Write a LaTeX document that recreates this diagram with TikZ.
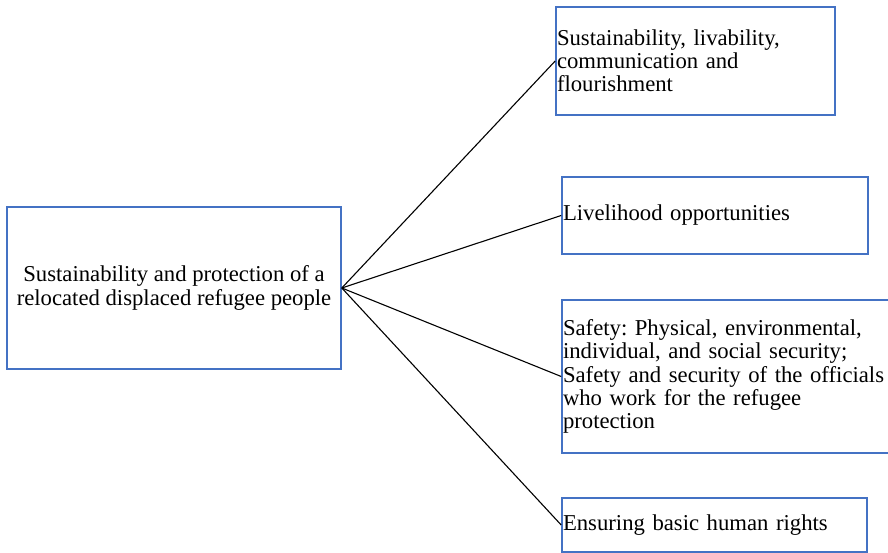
\documentclass[tikz,border=0pt]{standalone}
\usepackage{fontspec}
\setmainfont{Liberation Serif}
\usetikzlibrary{positioning}
\definecolor{boxblue}{RGB}{68,114,196}
\frenchspacing
\tikzset{
    mybox/.style = {rectangle, draw=boxblue, line width=1.6pt, inner xsep=1pt, inner ysep=2pt, align=left,
                    font=\fontsize{22.7}{23.2}\selectfont},
    mymain/.style = {mybox, align=center, minimum width=334pt, minimum height=162pt},
    edgel/.style = {black, line width=1.1pt},
}

\begin{document}
\begin{tikzpicture}[x=1pt,y=-1pt]
\useasboundingbox (0,0) rectangle (888,553);
\node[mymain] at (174.0, 288.0) (main) {Sustainability and protection of a\\relocated displaced refugee people};
\node[mybox, text width=277pt, minimum height=108pt] at (695.5, 61.0) (sust) {Sustainability, livability,\\communication and\\flourishment};
\node[mybox, text width=304pt, minimum height=77pt] at (715.0, 215.5) (live) {Livelihood opportunities};
\node[mybox, text width=342pt, minimum height=153pt] at (734.0, 376.5) (safe) {Safety: Physical, environmental,\\individual, and social security;\\Safety and security of the officials\\who work for the refugee\\protection};
\node[mybox, text width=303pt, minimum height=54pt] at (714.5, 525.0) (rights) {Ensuring basic human rights};
%
\draw[edgel] (main.east) edge (sust.west);
\draw[edgel] (main.east) edge (live.west);
\draw[edgel] (main.east) edge (safe.west);
\draw[edgel] (main.east) edge (rights.west);
\end{tikzpicture}
\end{document}
